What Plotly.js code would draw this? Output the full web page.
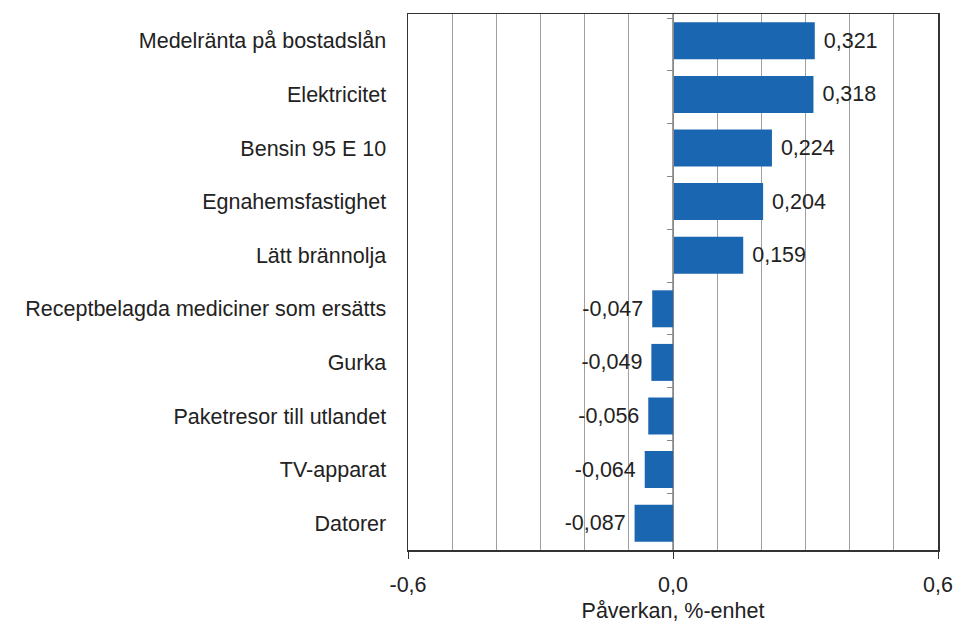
<!DOCTYPE html>
<html><head><meta charset="utf-8">
<script src="https://cdn.plot.ly/plotly-3.0.1.min.js"></script>
<style>body{margin:0;background:#fff}#c{width:958px;height:625px}</style>
</head><body><div id="c"></div>
<script>
const categories = ["Medelränta på bostadslån","Elektricitet","Bensin 95 E 10","Egnahemsfastighet","Lätt brännolja","Receptbelagda mediciner som ersätts","Gurka","Paketresor till utlandet","TV-apparat","Datorer"];
const values = [0.321,0.318,0.224,0.204,0.159,-0.047,-0.049,-0.056,-0.064,-0.087];
const xTickVals = [-0.6,0,0.6];
const xTickText = ["-0,6","0,0","0,6"];
const fmt = v => {const s=(v<0?"-":"") + Math.abs(v).toFixed(3).replace(".", ","); return v<0 ? s+" " : " "+s;};
const font = {family:"Liberation Sans, Arial, sans-serif", size:21.5, color:"#222"};
const traces = [
  {type:"bar", orientation:"h", x:values, y:categories, marker:{color:"#1a66b0"},
   text:values.map(fmt), textposition:"outside", cliponaxis:false, textfont:font, hoverinfo:"none"},
  {type:"scatter", mode:"markers", x:categories.map(()=>0), y:categories, yaxis:"y2",
   marker:{opacity:0}, hoverinfo:"none", showlegend:false}
];
const layout = {
  width:958, height:625, margin:{l:408, r:20, t:14, b:75},
  paper_bgcolor:"#fff", plot_bgcolor:"#fff", showlegend:false,
  separators:",.", font:font, bargap:0.31,
  xaxis:{range:[-0.6,0.6], tickvals:xTickVals, ticktext:xTickText, ticks:"outside", ticklen:7,
    tickcolor:"#333", showline:true, linecolor:"#333", linewidth:1.5, mirror:true,
    showgrid:false, zeroline:false, tickfont:font, ticklabelstandoff:8,
    minor:{dtick:0.1, showgrid:true, gridcolor:"#a0a0a0", gridwidth:1.3, ticks:""},
    title:{text:"Påverkan, %-enhet", font:font, standoff:6}},
  yaxis:{type:"category", autorange:"reversed", showline:true, linecolor:"#333", linewidth:1.5,
    mirror:true, ticks:"", showgrid:false, tickfont:font, ticklabelstandoff:16, fixedrange:true},
  yaxis2:{type:"category", overlaying:"y", anchor:"free", position:0.5, autorange:"reversed",
    showline:true, linecolor:"#888", linewidth:1.3, ticks:"outside", ticklen:6, tickcolor:"#888",
    tickson:"boundaries", showticklabels:false, showgrid:false, zeroline:false}
};
Plotly.newPlot("c", traces, layout, {staticPlot:true});
</script></body></html>
